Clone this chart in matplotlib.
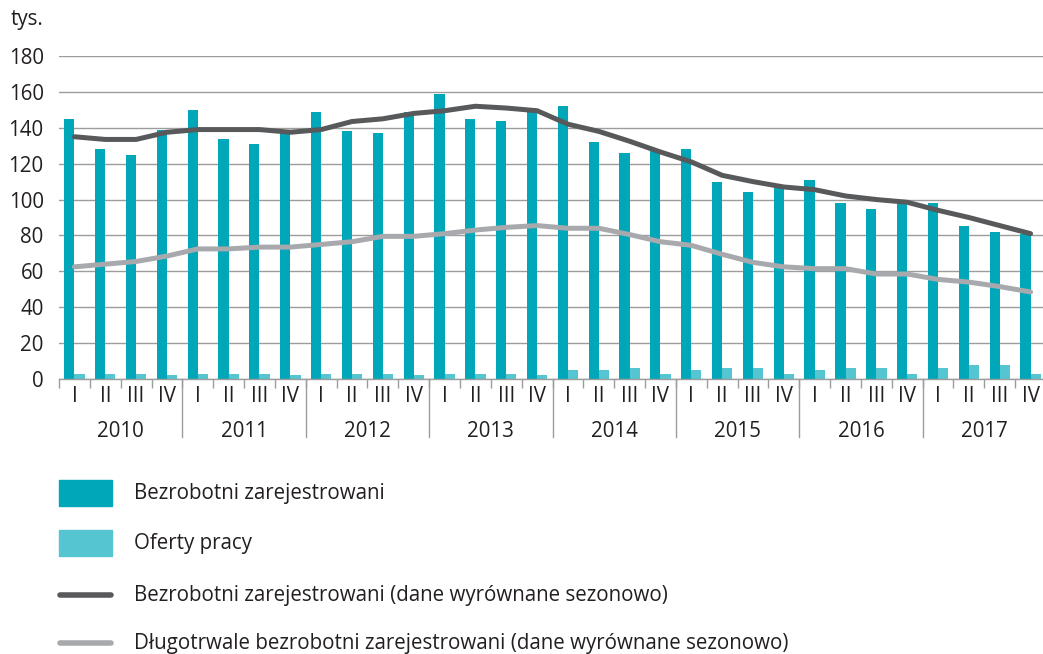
# Import libraries
import matplotlib
matplotlib.use("Agg")
import matplotlib.pyplot as plt
from matplotlib.patches import Rectangle
from matplotlib.lines import Line2D

plt.rcParams["font.family"] = ["Open Sans", "DejaVu Sans"]

# -----------------------------
# Data (thousands)
# -----------------------------
years = ["2010", "2011", "2012", "2013", "2014", "2015", "2016", "2017"]
quarters = ["I", "II", "III", "IV"]

registered = [145, 128, 125, 139,
              150, 134, 131, 138,
              149, 138, 137, 149,
              159, 145, 144, 149,
              152, 132, 126, 127,
              128, 110, 104, 107,
              111, 98, 95, 98,
              98, 85, 82, 81]

offers = [3, 3, 3, 2,
          3, 3, 3, 2,
          3, 3, 3, 2,
          3, 3, 3, 2,
          5, 5, 6, 3,
          5, 6, 6, 3,
          5, 6, 6, 3,
          6, 8, 8, 3]

registered_sa = [135, 133.5, 133.5, 137.5,
                 139, 139, 139, 137.5,
                 139, 143.5, 145, 148,
                 149.5, 152, 151, 149.5,
                 142, 138, 132.5, 126.5,
                 121, 113.5, 110, 107,
                 105.5, 102, 100, 98.5,
                 94, 90, 85.5, 81]

longterm_sa = [62.5, 64, 65.5, 68.5,
               72.5, 72.5, 73.5, 73.5,
               75, 76.5, 79.5, 79.5,
               81, 83, 84.5, 85.5,
               84, 84, 80.5, 76.5,
               74.5, 69.5, 65, 62.5,
               61.5, 61.5, 58.5, 58.5,
               55.5, 54, 51.5, 48.5]

labels = ["Bezrobotni zarejestrowani",
          "Oferty pracy",
          "Bezrobotni zarejestrowani (dane wyrównane sezonowo)",
          "Długotrwale bezrobotni zarejestrowani (dane wyrównane sezonowo)"]

# -----------------------------
# Colours
# -----------------------------
c_reg = "#00a7b9"
c_off = "#55c5d2"
c_dark = "#58595b"
c_light = "#a7a9ac"
c_grid = "#9d9d9d"
c_text = "#231f20"
fs = 14.8

W, H = 1043, 654
x = list(range(len(registered)))
quarter_labels = quarters * len(years)

fig = plt.figure(figsize=(W / 100, H / 100), dpi=100)
ax = fig.add_axes([59 / W, 1 - 379 / H, 987 / W, 323 / H])

ax.bar([i - 0.165 for i in x], registered, width=0.33, color=c_reg, zorder=2)
ax.bar([i + 0.165 for i in x], offers, width=0.33, color=c_off, zorder=2)
ax.plot(x, registered_sa, color=c_dark, lw=3.6, zorder=3, solid_capstyle="round")
ax.plot(x, longterm_sa, color=c_light, lw=3.6, zorder=3, solid_capstyle="round")

ax.set_xlim(-0.5, len(x) - 0.5)
ax.set_ylim(0, 180)
ax.set_yticks(range(0, 181, 20))
ax.yaxis.grid(True, color=c_grid, lw=1.0)
ax.set_axisbelow(True)
ax.tick_params(axis="y", length=0, pad=11, labelsize=fs, labelcolor=c_text)

for s in ["top", "right", "left"]:
    ax.spines[s].set_visible(False)
ax.spines["bottom"].set_color(c_grid)
ax.spines["bottom"].set_linewidth(1.0)

# category boundary ticks and quarter labels
ax.set_xticks([i - 0.5 for i in range(len(x) + 1)])
ax.set_xticklabels([])
ax.tick_params(axis="x", which="major", length=6.5, color=c_grid, width=1.0)
ax.set_xticks(x, minor=True)
ax.set_xticklabels(quarter_labels, minor=True)
ax.tick_params(axis="x", which="minor", length=0, pad=5, labelsize=fs, labelcolor=c_text)

# year separators and labels
for k, yr in enumerate(years):
    if k > 0:
        ax.plot([4 * k - 0.5, 4 * k - 0.5], [0, -0.18], color=c_grid, lw=1.0,
                transform=ax.get_xaxis_transform(), clip_on=False)
    ax.text(4 * k + 1.5, -0.161, yr, ha="center", va="center", fontsize=fs,
            color=c_text, transform=ax.get_xaxis_transform())

fig.text(11 / W, 1 - 20 / H, "tys.", ha="left", va="center", fontsize=fs, color=c_text)

# -----------------------------
# Legend (drawn by hand below the chart)
# -----------------------------
rows_y = [493, 543, 595, 643]
kinds = [("patch", c_reg), ("patch", c_off), ("line", c_dark), ("line", c_light)]
for (kind, col), ry, lab in zip(kinds, rows_y, labels):
    if kind == "patch":
        fig.add_artist(Rectangle((59 / W, 1 - (ry + 13) / H), 53 / W, 26 / H,
                                 color=col, transform=fig.transFigure))
    else:
        fig.add_artist(Line2D([60 / W, 111 / W], [1 - ry / H, 1 - ry / H], color=col,
                              lw=4, solid_capstyle="round", transform=fig.transFigure))
    fig.text(134 / W, 1 - ry / H, lab, ha="left", va="center", fontsize=fs, color=c_text)

fig.savefig("out.png", dpi=100)
